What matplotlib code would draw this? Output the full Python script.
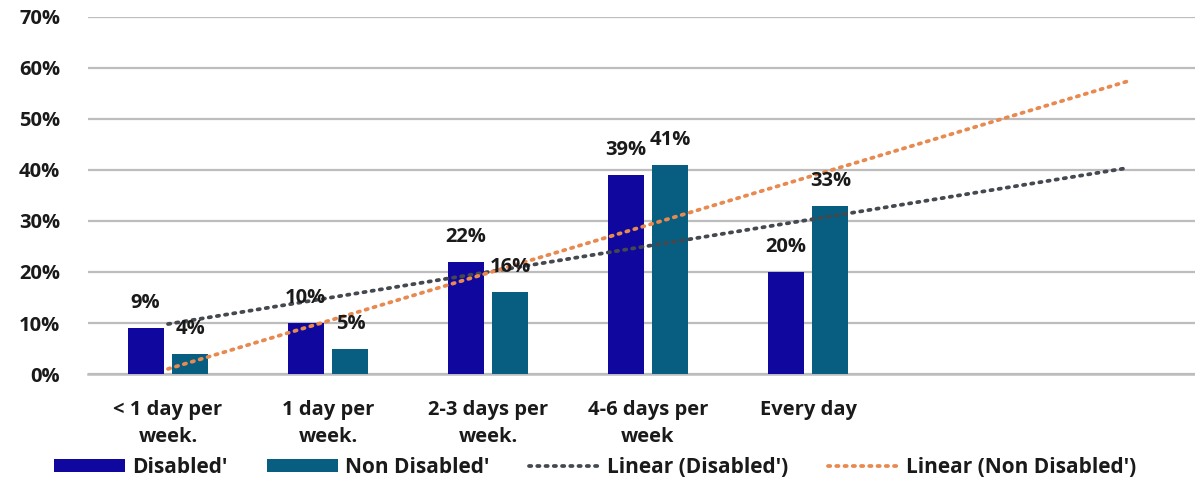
import numpy as np
import matplotlib
matplotlib.use("Agg")
import matplotlib.pyplot as plt
from matplotlib.patches import Patch
from matplotlib.lines import Line2D

categories = ["< 1 day per\nweek.", "1 day per\nweek.", "2-3 days per\nweek.",
              "4-6 days per\nweek", "Every day"]
disabled = [9, 10, 22, 39, 20]
non_disabled = [4, 5, 16, 41, 33]
y_ticks = [0, 10, 20, 30, 40, 50, 60, 70]
forecast_periods = 2

plt.rcParams["font.family"] = ["Open Sans", "DejaVu Sans"]
plt.rcParams["font.weight"] = "bold"

C_DIS = "#10079e"
C_NON = "#075e80"
C_TR_DIS = "#44484f"
C_TR_NON = "#e8894f"
TXT = "#1a1a1a"
FS = 14.5

fig = plt.figure(figsize=(11.95, 4.82), dpi=100)
ax = fig.add_axes([88 / 1195, 0.224, 1120 / 1195, 0.741])

x = np.arange(len(categories))
w = 0.225
off = 0.14
ax.bar(x - off, disabled, w, color=C_DIS, zorder=3)
ax.bar(x + off, non_disabled, w, color=C_NON, zorder=3)

for xi, v in zip(x - off, disabled):
    ax.annotate(f"{v}%", (xi, v), xytext=(0, 18), textcoords="offset points",
                ha="center", va="center", fontsize=FS, color=TXT, zorder=5)
for xi, v in zip(x + off, non_disabled):
    ax.annotate(f"{v}%", (xi, v), xytext=(0, 18), textcoords="offset points",
                ha="center", va="center", fontsize=FS, color=TXT, zorder=5)

# linear trendlines, extended two periods forward
xt = np.arange(len(categories) + forecast_periods)
dot = dict(linestyle=(0, (0.6, 1.6)), dash_capstyle="round", linewidth=2.7, zorder=4)
for series, col in ((disabled, C_TR_DIS), (non_disabled, C_TR_NON)):
    k, b = np.polyfit(x + 1, series, 1)
    ax.plot(xt, k * (xt + 1) + b, color=col, **dot)

ax.set_xlim(-0.5, len(categories) + forecast_periods - 0.5)
ax.set_ylim(0, 70)
ax.set_yticks(y_ticks)
ax.set_yticklabels([f"{t}%" for t in y_ticks], fontsize=FS, color=TXT)
ax.set_xticks(x)
ax.set_xticklabels(categories, fontsize=FS, color=TXT, linespacing=1.45)
ax.tick_params(axis="y", length=0, pad=20)
ax.tick_params(axis="x", length=0, pad=19)
ax.grid(axis="y", color="#bdbdbd", linewidth=1.6, zorder=0)
for s in ("top", "right", "left"):
    ax.spines[s].set_visible(False)
ax.spines["bottom"].set_color("#bdbdbd")
ax.spines["bottom"].set_linewidth(1.8)

handles = [
    Patch(facecolor=C_DIS, label="Disabled'"),
    Patch(facecolor=C_NON, label="Non Disabled'"),
    Line2D([], [], color=C_TR_DIS, label="Linear (Disabled')", **dot),
    Line2D([], [], color=C_TR_NON, label="Linear (Non Disabled')", **dot),
]
fig.legend(handles=handles, loc="center", bbox_to_anchor=(0.498, 0.031), ncol=4,
           frameon=False, fontsize=15, handlelength=3.4, handleheight=0.6,
           handletextpad=0.35, columnspacing=1.9, labelcolor=TXT)

fig.savefig("out.png", dpi=100, facecolor="white")
